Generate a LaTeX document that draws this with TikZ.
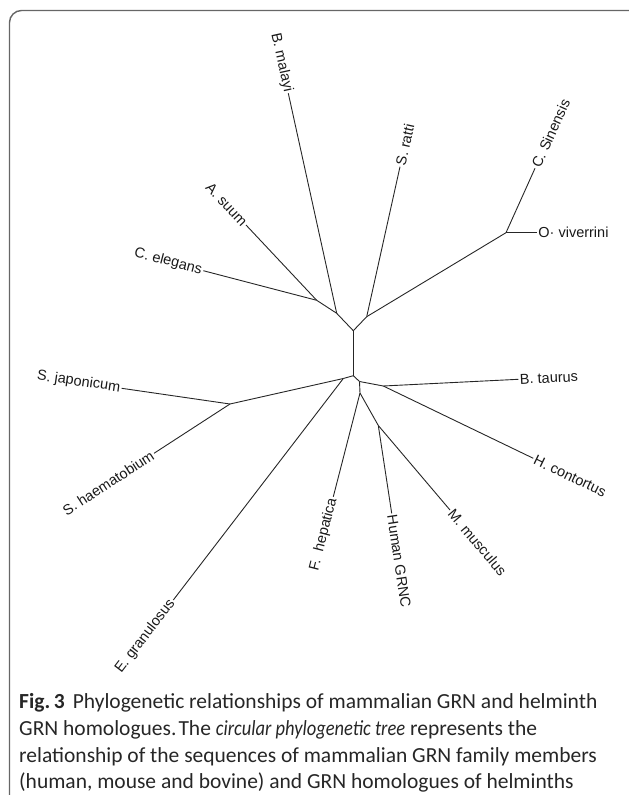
\documentclass[tikz,border=0pt]{standalone}
\usepackage{fontspec}
\setmainfont{Liberation Sans}
\newfontfamily\capfont{Carlito}
\frenchspacing
\begin{document}
\begin{tikzpicture}[x=1pt,y=-1pt,
  branch/.style={draw=black!85, line width=0.9pt},
  leafr/.style={anchor=west, inner sep=1.5pt, font=\fontsize{14.5}{16}\selectfont, text=black!90},
  leafl/.style={anchor=east, inner sep=1.5pt, font=\fontsize{14.5}{16}\selectfont, text=black!90},
  captext/.style={anchor=base west, inner sep=0pt, font=\capfont\fontsize{21.5}{26}\selectfont, text=black!85},
  frame/.style={draw=black!60, line width=1.4pt}]
\useasboundingbox (0,0) rectangle (629,795);
\draw[frame, rounded corners=12pt] (9.5,795) -- (9.5,10.5) -- (629,10.5);

% internal nodes
\coordinate (n1) at (353.3,330.7);
\coordinate (n2) at (353.3,375.7);
\coordinate (uL) at (336.7,313.3);
\coordinate (uLL) at (316.7,300.3);
\coordinate (uR) at (366.7,316.7);
\coordinate (cl) at (506,232.7);
\coordinate (lA) at (343.3,378.5);
\coordinate (schi) at (230,404);
\coordinate (rA) at (359.5,381.5);
\coordinate (bt) at (383.3,386);
\coordinate (rB) at (360,393);
\coordinate (mm) at (378.3,425.5);

% leaves
\node[leafl, rotate=-77.6] (bmal) at (288.3,93.3) {B. malayi};
\node[leafr, rotate=77.5] (srat) at (400,166.7) {S. ratti};
\node[leafr, rotate=65.8] (csin) at (535,168.3) {C. Sinensis};
\node[leafr] (oviv) at (536.7,232.7) {O· viverrini};
\node[leafl, rotate=-46.8] (asuu) at (246,225) {A. suum};
\node[leafl, rotate=-14.6] (cele) at (203.3,270.7) {C. elegans};
\node[leafl, rotate=-8.25] (sjap) at (121.7,388.3) {S. japonicum};
\node[leafl, rotate=33] (shae) at (154,453.3) {S. haematobium};
\node[leafl, rotate=52.5] (egra) at (173.3,600) {E. granulosus};
\node[leafl, rotate=75.6] (fhep) at (333.3,496.7) {F.\ \ hepatica};
\node[leafr, rotate=-81.3] (hgrn) at (391.7,513.3) {Human GRNC};
\node[leafr, rotate=-49.7] (mmus) at (450,510) {M. musculus};
\node[leafr, rotate=-25.7] (hcon) at (533.3,458.3) {H. contortus};
\node[leafr, rotate=2.8] (btau) at (518.3,379.3) {B. taurus};

% branches
\draw[branch] (n1) -- (n2);
\draw[branch] (n1) -- (uL);
\draw[branch] (uL) -- (uLL);
\draw[branch] (uL) -- (bmal.east);
\draw[branch] (uLL) -- (asuu.east);
\draw[branch] (uLL) -- (cele.east);
\draw[branch] (n1) -- (uR);
\draw[branch] (uR) -- (srat.west);
\draw[branch] (uR) -- (cl);
\draw[branch] (cl) -- (csin.west);
\draw[branch] (cl) -- (oviv.west);
\draw[branch] (n2) -- (lA);
\draw[branch] (lA) -- (schi);
\draw[branch] (schi) -- (sjap.east);
\draw[branch] (schi) -- (shae.east);
\draw[branch] (lA) -- (egra.east);
\draw[branch] (n2) -- (rA);
\draw[branch] (rA) -- (bt);
\draw[branch] (bt) -- (btau.west);
\draw[branch] (bt) -- (hcon.west);
\draw[branch] (rA) -- (rB);
\draw[branch] (rB) -- (fhep.east);
\draw[branch] (rB) -- (mm);
\draw[branch] (mm) -- (hgrn.west);
\draw[branch] (mm) -- (mmus.west);

% caption
\node[captext] (cap1) at (19,708) {\textbf{Fig.\,3}\hspace{8pt}Phylogenetic relationships of mammalian GRN and helminth};
\node[captext] (cap2) at (19,735) {GRN homologues.\hspace{2pt}The \scalebox{0.86}[1]{\textit{circular phylogenetic tree}} represents the};
\node[captext] (cap3) at (19,762) {relationship of the sequences of mammalian GRN family members};
\node[captext] (cap4) at (19,788) {(human, mouse and bovine) and GRN homologues of helminths};
\end{tikzpicture}
\end{document}
